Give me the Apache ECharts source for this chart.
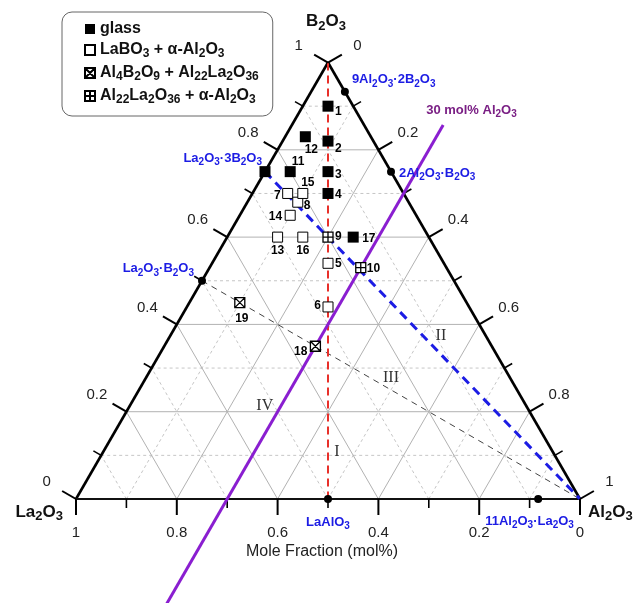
<!DOCTYPE html>
<html><head><meta charset="utf-8">
<script src="https://cdn.jsdelivr.net/npm/echarts@6/dist/echarts.min.js"></script>
<style>html,body{margin:0;padding:0;background:#fff}#c{width:643px;height:603px}</style>
</head><body><div id="c"></div>
<script>
// ---------- DATA (compositions as [B2O3, Al2O3, La2O3] mole fractions) ----------
const glassIds  = ['1','2','3','4','11','12','17',''];
const glassComp = [[0.90,0.05,0.05],[0.82,0.09,0.09],[0.75,0.125,0.125],[0.70,0.15,0.15],[0.75,0.05,0.20],[0.83,0.04,0.13],[0.60,0.25,0.15],[0.75,0.00,0.25]];
const openIds   = ['5','6','7','8','13','14','15','16'];
const openComp  = [[0.54,0.23,0.23],[0.44,0.28,0.28],[0.70,0.07,0.23],[0.68,0.10,0.22],[0.60,0.10,0.30],[0.65,0.10,0.25],[0.70,0.10,0.20],[0.60,0.15,0.25]];
const crossIds  = ['18','19'];
const crossComp = [[0.35,0.30,0.35],[0.45,0.10,0.45]];
const plusIds   = ['9','10'];
const plusComp  = [[0.60,0.20,0.20],[0.53,0.30,0.17]];

const compoundNames = ['9Al_2O_3·2B_2O_3','2Al_2O_3·B_2O_3','La_2O_3·3B_2O_3','La_2O_3·B_2O_3','LaAlO_3','11Al_2O_3·La_2O_3'];
const compoundComp  = [[0.933,0.067,0],[0.75,0.25,0],[0.75,0,0.25],[0.5,0,0.5],[0,0.5,0.5],[0,0.917,0.083]];

const redLine    = [[1,0,0],[0,0.5,0.5]];
const blueLine   = [[0.75,0,0.25],[0,1,0]];
const blackLine  = [[0.5,0,0.5],[0,1,0]];
const purpleLine = [[0.857,0.3,-0.157],[-0.26,0.3,0.96]];
const purpleText = '30 mol% Al_2O_3';

const majorTicks  = [0,0.2,0.4,0.6,0.8,1];
const majorLabels = ['0','0.2','0.4','0.6','0.8','1'];
const minorTicks  = [0.1,0.3,0.5,0.7,0.9];
const gridSolid   = [0.2,0.4,0.6,0.8];
const gridDashed  = [0.1,0.3,0.5,0.7,0.9];

const vertexNames = ['B_2O_3','Al_2O_3','La_2O_3'];
const vertexComp  = [[1,0,0],[0,1,0],[0,0,1]];
const axisTitle   = 'Mole Fraction (mol%)';
const regionNames = ['I','II','III','IV'];
const regionComp  = [[0.1075,0.464,0.4285],[0.374,0.537,0.089],[0.278,0.486,0.236],[0.213,0.268,0.519]];

const legendNames = ['glass','LaBO_3 + α-Al_2O_3','Al_4B_2O_9 + Al_22La_2O_36','Al_22La_2O_36 + α-Al_2O_3'];

// ---------- STYLE / LAYOUT ----------
const FONT = '"Liberation Sans", Arial, Helvetica, sans-serif';
const SERIF = '"Liberation Serif", "Times New Roman", serif';
const BLUE = '#1c1ce4';
const S3 = Math.sqrt(3) / 2;
function tc(c) { return [c[1] + 0.5 * c[0], S3 * c[0]]; }

function rich(str, m, s) {
  const parts = str.split(/_(\d+)/);
  let out = '';
  parts.forEach((p, i) => { if (p !== '') out += '{' + (i % 2 ? s : m) + '|' + p + '}'; });
  return out;
}
function richStyle(size, sub, color, lh, slh, weight) {
  return {
    m: {fontSize: size, fontWeight: weight, color: color, fontFamily: FONT, lineHeight: lh},
    s: {fontSize: sub, fontWeight: weight, color: color, fontFamily: FONT, lineHeight: slh, verticalAlign: 'bottom'}
  };
}

const labelLayout = {
  '1':['left',7,6], '2':['left',7,8], '3':['left',7,3], '4':['left',7,1], '9':['left',7,0], '5':['left',7,0],
  '17':['left',9,2], '10':['left',6,1], '8':['left',6,3], '6':['right',-7,-1], '7':['right',-7,2],
  '14':['right',-8,1], '18':['right',-8,5], '11':['center',8,-10], '15':['center',5,-11], '12':['center',6,13],
  '13':['center',0,14], '16':['center',0,14], '19':['center',2,16]
};
const compLayout = [['left',7,-12],['left',8,2],['right',-3,-13],['right',-8,-12],['center',0,23],['left',-53,22]];
const vertexLayout = [['center',-2,-41],['left',8,13],['right',-13,13]];

function ptData(ids, comps) {
  return comps.map((c, i) => {
    const id = ids[i];
    const lay = labelLayout[id] || ['left',7,0];
    return {name: id, value: tc(c), label: {show: id !== '', formatter: id, position: 'inside', align: lay[0], verticalAlign: 'middle', offset: [lay[1], lay[2]]}};
  });
}
const numLabel = {show: true, color: '#000', fontSize: 12, fontWeight: 'bold', fontFamily: FONT};

// grid / frame segments
const segStyles = [
  {c: '#b2b2b2', w: 1, d: null},
  {c: '#c6c6c6', w: 1, d: [3, 3]},
  {c: '#000', w: 2.6, d: null},
  {c: '#111', w: 2, d: null}
];
const segData = [];
function addFamily(v, k) {
  const b1 = tc([v, 0, 1 - v]), b2 = tc([v, 1 - v, 0]);
  const a1 = tc([0, v, 1 - v]), a2 = tc([1 - v, v, 0]);
  const l1 = tc([0, 1 - v, v]), l2 = tc([1 - v, 0, v]);
  segData.push([b1[0], b1[1], b2[0], b2[1], k], [a1[0], a1[1], a2[0], a2[1], k], [l1[0], l1[1], l2[0], l2[1], k]);
}
gridDashed.forEach(v => addFamily(v, 1));
gridSolid.forEach(v => addFamily(v, 0));
const vL = tc(vertexComp[2]), vR = tc(vertexComp[1]), vT = tc(vertexComp[0]);
segData.push([vL[0], vL[1], vT[0], vT[1], 2], [vT[0], vT[1], vR[0], vR[1], 2], [vL[0], vL[1], vR[0], vR[1], 3]);

function renderSeg(params, api) {
  const p1 = api.coord([api.value(0), api.value(1)]);
  const p2 = api.coord([api.value(2), api.value(3)]);
  const st = segStyles[api.value(4)];
  return {type: 'line', shape: {x1: p1[0], y1: p1[1], x2: p2[0], y2: p2[1]}, style: {stroke: st.c, lineWidth: st.w, lineDash: st.d}};
}

// ticks: [x, y, axis, major, labelIndex]
const dirs = [[0, 1], [-S3, -0.5], [S3, -0.5]];
const tickData = [];
function tickPos(axis, v) {
  if (axis === 0) return tc([0, 1 - v, v]);      // bottom: La2O3
  if (axis === 1) return tc([v, 0, 1 - v]);      // left: B2O3
  return tc([1 - v, v, 0]);                      // right: Al2O3
}
[0, 1, 2].forEach(ax => {
  majorTicks.forEach((v, i) => { const p = tickPos(ax, v); tickData.push([p[0], p[1], ax, 1, i]); });
  minorTicks.forEach(v => { const p = tickPos(ax, v); tickData.push([p[0], p[1], ax, 0, -1]); });
});
function renderTick(params, api) {
  const p = api.coord([api.value(0), api.value(1)]);
  const d = dirs[api.value(2)];
  const major = api.value(3) === 1;
  const len = major ? 16 : 9;
  const ch = [{type: 'line', shape: {x1: p[0], y1: p[1], x2: p[0] + d[0] * len, y2: p[1] + d[1] * len}, style: {stroke: '#000', lineWidth: major ? 2 : 1.6}}];
  if (major) ch.push({type: 'text', x: p[0] + d[0] * 34, y: p[1] + d[1] * 34,
    style: {text: majorLabels[api.value(4)], fill: '#222', fontSize: 15, fontFamily: FONT, align: 'center', verticalAlign: 'middle'}});
  return {type: 'group', children: ch};
}

function lineSeries(pts, color, width, dash, z) {
  return {type: 'line', data: pts.map(tc), symbol: 'none', silent: true, z: z, clip: true,
    lineStyle: {color: color, width: width, type: dash || 'solid'}, animation: false};
}

const crossPath = 'path://M0,0H10V10H0Z M0,0L10,10 M10,0L0,10';
const plusPath  = 'path://M0,0H10V10H0Z M5,0V10 M0,5H10';

const chart = echarts.init(document.getElementById('c'), null, {renderer: 'canvas'});
chart.setOption({
  animation: false,
  backgroundColor: '#fff',
  grid: {left: 0, right: 0, top: 0, bottom: 0},
  xAxis: {type: 'value', min: -76 / 504, max: 567 / 504, show: false},
  yAxis: {type: 'value', min: -104 / 504, max: 499 / 504, show: false},
  legend: {
    data: legendNames, left: 62, top: 12, orient: 'vertical',
    itemWidth: 10, itemHeight: 10, itemGap: 5, padding: [9, 14, 10, 22],
    backgroundColor: '#fff', borderColor: '#666', borderWidth: 1, borderRadius: 10,
    selectedMode: false,
    formatter: name => rich(name, 'm', 's'),
    textStyle: {rich: richStyle(16, 12, '#111', 20, 8, 'bold')}
  },
  series: [
    {type: 'custom', name: 'grid', coordinateSystem: 'cartesian2d', data: segData, renderItem: renderSeg, encode: {x: [0, 2], y: [1, 3]}, silent: true, z: 1},
    lineSeries(blackLine, '#444', 1, [6, 5], 2),
    lineSeries(redLine, '#e8302a', 2, [8, 5], 2),
    lineSeries(blueLine, BLUE, 3, [9, 6], 2),
    {type: 'custom', name: 'ticks', coordinateSystem: 'cartesian2d', data: tickData, renderItem: renderTick, encode: {x: 0, y: 1}, silent: true, z: 3},
    lineSeries(purpleLine, '#8a1ed0', 3, null, 4),
    {type: 'scatter', name: 'purpleText', data: [{value: tc(purpleLine[0]), label: {formatter: rich(purpleText, 'm', 's')}}],
      symbolSize: 0, silent: true, z: 6, itemStyle: {opacity: 1},
      label: {show: true, position: 'inside', align: 'left', verticalAlign: 'middle', offset: [-17, -15], rich: richStyle(13, 10, '#7a1f84', 18, 8, 'bold')}},
    {type: 'scatter', name: 'compounds', symbol: 'circle', symbolSize: 8, silent: true, z: 5,
      itemStyle: {color: '#000', opacity: 1},
      data: compoundComp.map((c, i) => ({value: tc(c), label: {show: true, formatter: rich(compoundNames[i], 'm', 's'), position: 'inside',
        align: compLayout[i][0], verticalAlign: 'middle', offset: [compLayout[i][1], compLayout[i][2]]}})),
      label: {rich: richStyle(13, 10, BLUE, 18, 8, 'bold')}},
    {type: 'scatter', name: legendNames[0], symbol: 'rect', symbolSize: 11, silent: true, z: 7,
      itemStyle: {color: '#000', borderColor: '#000', borderWidth: 0, opacity: 1}, data: ptData(glassIds, glassComp), label: numLabel},
    {type: 'scatter', name: legendNames[1], symbol: 'rect', symbolSize: 10, silent: true, z: 7,
      itemStyle: {color: '#fff', borderColor: '#000', borderWidth: 1, opacity: 1}, data: ptData(openIds, openComp), label: numLabel},
    {type: 'scatter', name: legendNames[2], symbol: crossPath, symbolSize: 10, silent: true, z: 7,
      itemStyle: {color: '#fff', borderColor: '#000', borderWidth: 1.3, opacity: 1}, data: ptData(crossIds, crossComp), label: numLabel},
    {type: 'scatter', name: legendNames[3], symbol: plusPath, symbolSize: 10, silent: true, z: 7,
      itemStyle: {color: '#fff', borderColor: '#000', borderWidth: 1.3, opacity: 1}, data: ptData(plusIds, plusComp), label: numLabel},
    {type: 'scatter', name: 'vertices', symbolSize: 0, silent: true, z: 8, itemStyle: {opacity: 1},
      data: vertexComp.map((c, i) => ({value: tc(c), label: {show: true, formatter: rich(vertexNames[i], 'm', 's'), position: 'inside',
        align: vertexLayout[i][0], verticalAlign: 'middle', offset: [vertexLayout[i][1], vertexLayout[i][2]]}})),
      label: {rich: richStyle(17, 13, '#111', 22, 10, 'bold')}},
    {type: 'scatter', name: 'axisTitle', symbolSize: 0, silent: true, z: 8, itemStyle: {opacity: 1},
      data: [{value: tc([0, 0.5, 0.5])}],
      label: {show: true, formatter: axisTitle, position: 'inside', align: 'center', verticalAlign: 'middle', offset: [-6, 53], color: '#222', fontSize: 16, fontFamily: FONT}},
    {type: 'scatter', name: 'regions', symbolSize: 0, silent: true, z: 8, itemStyle: {opacity: 1},
      data: regionComp.map((c, i) => ({value: tc(c), name: regionNames[i]})),
      label: {show: true, formatter: p => p.name, position: 'inside', color: '#333', fontSize: 16, fontFamily: SERIF}}
  ]
});
</script></body></html>
